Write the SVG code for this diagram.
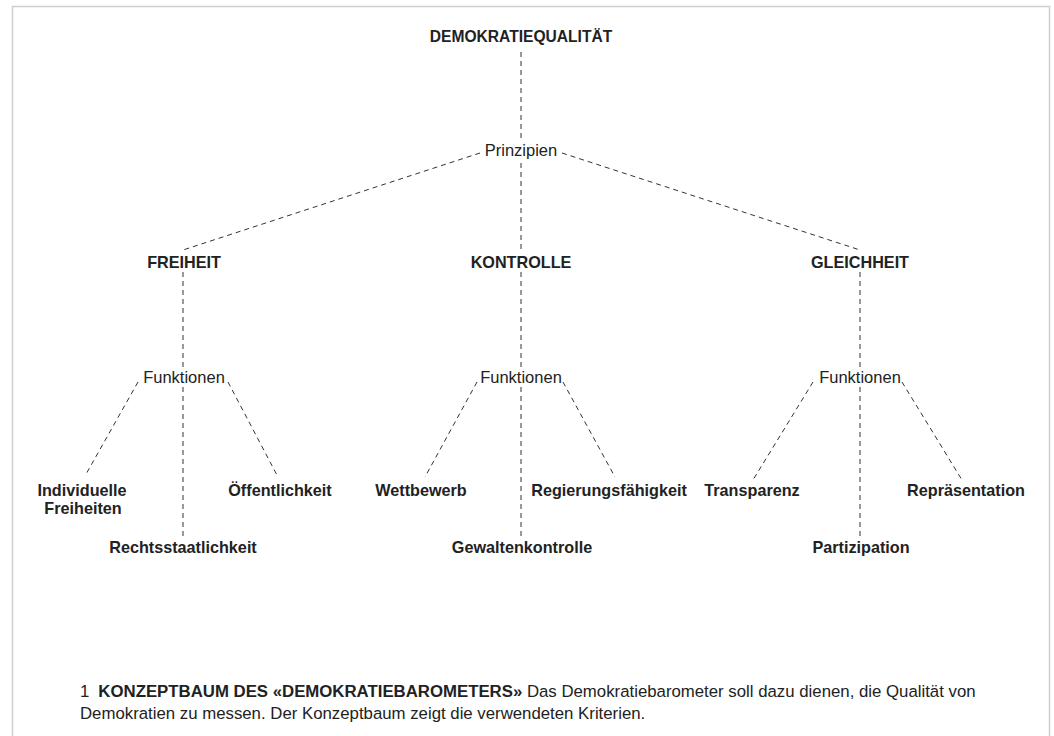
<svg xmlns="http://www.w3.org/2000/svg" width="1054" height="736" viewBox="0 0 1054 736">
<style>
  text { font-family: "Liberation Sans", Arial, sans-serif; fill: #222; }
  .b { font-weight: bold; font-size: 16.2px; text-anchor: middle; }
  .t { font-weight: bold; font-size: 15.6px; text-anchor: middle; }
  .r { font-size: 16.5px; text-anchor: middle; }
  .cap { font-size: 16.8px; }
  .d { stroke: #333; stroke-width: 1; stroke-dasharray: 5 4; fill: none; }
</style>
<rect x="12.5" y="6.5" width="1037" height="780" fill="#fff" stroke="#cfcfcf" stroke-width="1.5"/>
<g id="connectors">
  <line class="d" x1="521" y1="52" x2="521" y2="138"/>
  <line class="d" x1="521" y1="163" x2="521" y2="252"/>
  <line class="d" x1="480" y1="153" x2="183" y2="250"/>
  <line class="d" x1="562" y1="153" x2="860" y2="250"/>
  <line class="d" x1="183" y1="272" x2="183" y2="367"/>
  <line class="d" x1="521" y1="272" x2="521" y2="367"/>
  <line class="d" x1="860" y1="272" x2="860" y2="367"/>
  <line class="d" x1="183" y1="387" x2="183" y2="537"/>
  <line class="d" x1="138" y1="382" x2="85" y2="476"/>
  <line class="d" x1="228" y1="382" x2="278" y2="477"/>
  <line class="d" x1="521" y1="387" x2="521" y2="537"/>
  <line class="d" x1="477" y1="382" x2="425" y2="477"/>
  <line class="d" x1="563" y1="382" x2="615" y2="477"/>
  <line class="d" x1="860" y1="387" x2="860" y2="537"/>
  <line class="d" x1="813" y1="382" x2="753" y2="480"/>
  <line class="d" x1="902" y1="382" x2="962" y2="480"/>
</g>
<g id="n-root"><text class="t" x="521" y="42">DEMOKRATIEQUALITÄT</text></g>
<g id="n-prinzipien"><text class="r" x="521" y="156">Prinzipien</text></g>
<g id="n-freiheit"><text class="b" x="184" y="268">FREIHEIT</text></g>
<g id="n-kontrolle"><text class="b" x="521" y="268">KONTROLLE</text></g>
<g id="n-gleichheit"><text class="b" x="860" y="268">GLEICHHEIT</text></g>
<g id="n-funk1"><text class="r" x="184" y="383">Funktionen</text></g>
<g id="n-funk2"><text class="r" x="521" y="383">Funktionen</text></g>
<g id="n-funk3"><text class="r" x="860" y="383">Funktionen</text></g>
<g id="n-indiv"><text class="b" x="82" y="496">Individuelle</text><text class="b" x="83" y="514">Freiheiten</text></g>
<g id="n-oeff"><text class="b" x="280" y="496">Öffentlichkeit</text></g>
<g id="n-rechts"><text class="b" x="183" y="553">Rechtsstaatlichkeit</text></g>
<g id="n-wett"><text class="b" x="421" y="496">Wettbewerb</text></g>
<g id="n-regier"><text class="b" x="609" y="496">Regierungsfähigkeit</text></g>
<g id="n-gewalt"><text class="b" x="522" y="553">Gewaltenkontrolle</text></g>
<g id="n-transp"><text class="b" x="752" y="496">Transparenz</text></g>
<g id="n-repr"><text class="b" x="966" y="496">Repräsentation</text></g>
<g id="n-partiz"><text class="b" x="861" y="553">Partizipation</text></g>
<g id="caption">
  <text class="cap" x="80" y="697">1<tspan dx="9" font-weight="bold">KONZEPTBAUM DES «DEMOKRATIEBAROMETERS»</tspan> Das Demokratiebarometer soll dazu dienen, die Qualität von</text>
  <text class="cap" x="80" y="719">Demokratien zu messen. Der Konzeptbaum zeigt die verwendeten Kriterien.</text>
</g>
</svg>
